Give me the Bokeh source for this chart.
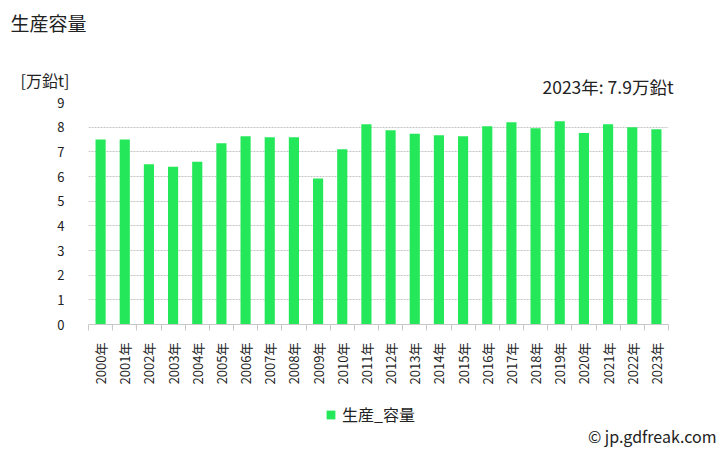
import math
from bokeh.plotting import figure
from bokeh.layouts import column
from bokeh.models import (Range1d, FixedTicker, Label, Legend, LegendItem, ColumnDataSource)
from bokeh.embed import file_html
from bokeh.resources import INLINE

years = ["2000年", "2001年", "2002年", "2003年", "2004年", "2005年", "2006年", "2007年",
         "2008年", "2009年", "2010年", "2011年", "2012年", "2013年", "2014年", "2015年",
         "2016年", "2017年", "2018年", "2019年", "2020年", "2021年", "2022年", "2023年"]
capacity = [7.5, 7.5, 6.5, 6.4, 6.6, 7.35, 7.63, 7.59, 7.59, 5.92, 7.1, 8.12,
            7.88, 7.73, 7.67, 7.63, 8.04, 8.2, 7.96, 8.24, 7.76, 8.12, 8.0, 7.92]
y_ticks = [0, 1, 2, 3, 4, 5, 6, 7, 8, 9]
title_text = "生産容量"
unit_text = "[万鉛t]"
latest_text = "2023年: 7.9万鉛t"
series_name = "生産_容量"
credit_text = "© jp.gdfreak.com"

FONT = "Noto Sans CJK JP"
GREEN = "#24E85A"
TXT = "#222222"
W = 728
TOP_H, MAIN_H, BOT_H = 96, 304, 50


def blank(h):
    f = figure(width=W, height=h, output_backend="svg", toolbar_location=None,
               x_axis_type=None, y_axis_type=None, x_range=Range1d(-3, -2), y_range=Range1d(0, 1),
               min_border=0, title=None, frame_align=False)
    f.outline_line_color = None
    f.grid.visible = False
    return f


def label(f, text, x, y_from_top, h, size, align="left"):
    f.add_layout(Label(x=x, y=h - y_from_top, x_units="screen", y_units="screen", text=text,
                       text_font=FONT, text_font_size=size, text_color=TXT,
                       text_align=align, text_baseline="middle"))


# --- header ---
top = blank(TOP_H)
label(top, title_text, 10, 22, TOP_H, "19px")
label(top, unit_text, 20, 79, TOP_H, "16px")
label(top, latest_text, 673, 86, TOP_H, "17.5px", align="right")

# --- main chart ---
n = len(years)
pos = [i + 0.5 for i in range(n)]
src = ColumnDataSource(dict(x=pos, top=capacity, label=years))

p = figure(width=W, height=MAIN_H, output_backend="svg", toolbar_location=None,
           x_range=Range1d(0, n), y_range=Range1d(0, 9), title=None,
           min_border_left=88, min_border_right=60, min_border_top=102 - TOP_H,
           min_border_bottom=TOP_H + MAIN_H - 324, frame_align=False)
p.outline_line_color = None
p.background_fill_color = "white"
p.border_fill_color = "white"

r = p.vbar(x="x", top="top", width=0.42, source=src, fill_color=GREEN, line_color=None)

p.yaxis.ticker = FixedTicker(ticks=y_ticks)
p.yaxis.axis_line_color = None
p.yaxis.major_tick_line_color = None
p.yaxis.minor_tick_line_color = None
p.yaxis.major_label_standoff = 18
p.yaxis.major_label_text_font = FONT
p.yaxis.major_label_text_font_size = "13px"
p.yaxis.major_label_text_color = TXT
p.ygrid.ticker = FixedTicker(ticks=y_ticks)
p.ygrid.grid_line_color = "#c4c4c4"
p.ygrid.grid_line_dash = "2 1"
p.xgrid.grid_line_color = None

p.xaxis.ticker = FixedTicker(ticks=pos, minor_ticks=list(range(n + 1)))
p.xaxis.major_label_overrides = {pv: lab for pv, lab in zip(pos, years)}
p.xaxis.major_tick_line_color = None
p.xaxis.major_tick_out = 0
p.xaxis.minor_tick_in = 0
p.xaxis.minor_tick_out = 6
p.xaxis.minor_tick_line_color = "#c8c8c8"
p.xaxis.axis_line_color = "#c8c8c8"
p.xaxis.major_label_orientation = math.pi / 2
p.xaxis.major_label_standoff = 12
p.xaxis.major_label_text_font = FONT
p.xaxis.major_label_text_font_size = "13px"
p.xaxis.major_label_text_color = TXT

# --- footer: legend + credit ---
bot = blank(BOT_H)
# legend proxy shares the series source; its x range keeps the bars out of view
proxy = bot.vbar(x="x", top="top", source=src, width=0.42, fill_color=GREEN, line_color=None)
legend = Legend(items=[LegendItem(label=series_name, renderers=[proxy])],
                location=(325, 24), orientation="horizontal",
                padding=0, margin=0, spacing=0, glyph_width=11, glyph_height=11,
                label_text_font=FONT, label_text_font_size="16px", label_text_color=TXT,
                label_standoff=6, border_line_color=None, background_fill_alpha=0)
bot.add_layout(legend, "center")
label(bot, credit_text, 716, 435 - (TOP_H + MAIN_H), BOT_H, "16px", align="right")

layout = column(top, p, bot, spacing=0)
open("out.html", "w").write(file_html(layout, INLINE))
